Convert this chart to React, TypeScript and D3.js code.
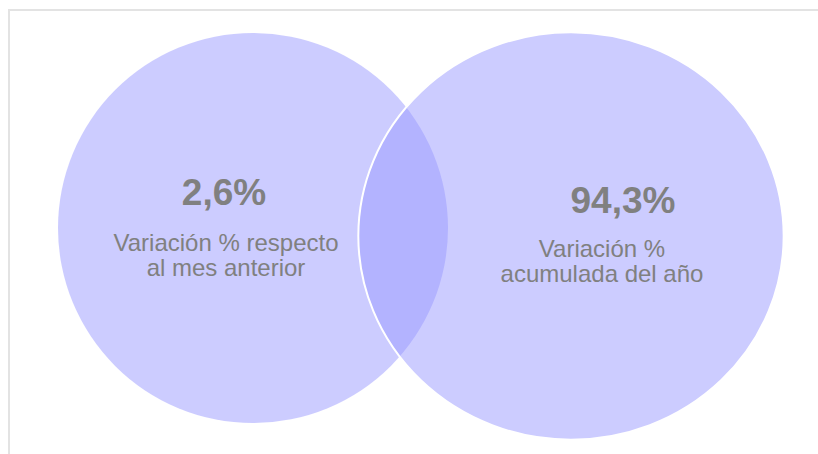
import React from 'react';
import { scaleLinear, scaleSqrt, formatLocale } from 'd3';

// two sets of the venn: monthly and yearly change
const setKeys = ['mes', 'anio'];
const setValues = [2.6, 94.3];
const setLabels = [
  ['Variación % respecto', 'al mes anterior'],
  ['Variación %', 'acumulada del año'],
];
// relative area of each circle and its (x, y) slot in layout units
const setAreas = [1, 1.14];
const setSlotX = [0, 1];
const setSlotY = [0, 1];
// text placement relative to centre, in px
const valueDx = [-29, 52];
const valueDy = [-23, -23];
const labelDx = [-27, 31];
const labelDy = [23, 21];

const W = 818;
const H = 454;

const es = formatLocale({ decimal: ',', thousands: '.', grouping: [3], currency: ['', '€'] });
const fmt = (v: number) => es.format('.1f')(v) + '%';

const App: React.FC = () => {
  const x = scaleLinear().domain([0, 1]).range([253, 571]);
  const y = scaleLinear().domain([0, 1]).range([228, 236]);
  const r = scaleSqrt().domain([0, 1]).range([0, 195]);
  // right circle is a bit wider than tall in the original
  const stretch = [1, 1.044];

  return (
    <svg width={W} height={H} style={{ position: 'absolute', left: 0, top: 0 }}
      fontFamily="'Liberation Sans', Arial, sans-serif">
      <rect x={0} y={0} width={W} height={H} fill="#fff" />
      <line x1={8} x2={W} y1={10} y2={10} stroke="#e3e3e3" strokeWidth={2} />
      <line x1={9} x2={9} y1={9} y2={H} stroke="#e3e3e3" strokeWidth={2} />
      {setKeys.map((k, i) => {
        const rr = r(setAreas[i]);
        const ry = rr * 2 / (1 + stretch[i]);
        const rx = ry * stretch[i];
        return (
          <ellipse key={k} cx={x(setSlotX[i])} cy={y(setSlotY[i])} rx={rx} ry={ry}
            fill="#9999ff" fillOpacity={0.5}
            stroke={i === 1 ? '#fff' : 'none'} strokeWidth={2} />
        );
      })}
      {setKeys.map((k, i) => {
        const cx = x(setSlotX[i]);
        const cy = y(setSlotY[i]);
        return (
          <g key={k + '-t'} fill="#808080" textAnchor="middle">
            <text x={cx + valueDx[i]} y={cy + valueDy[i]} fontSize={37} fontWeight="bold">
              {fmt(setValues[i])}
            </text>
            {setLabels[i].map((l, j) => (
              <text key={j} x={cx + labelDx[i]} y={cy + labelDy[i] + j * 25} fontSize={24}>{l}</text>
            ))}
          </g>
        );
      })}
    </svg>
  );
};

export default App;
